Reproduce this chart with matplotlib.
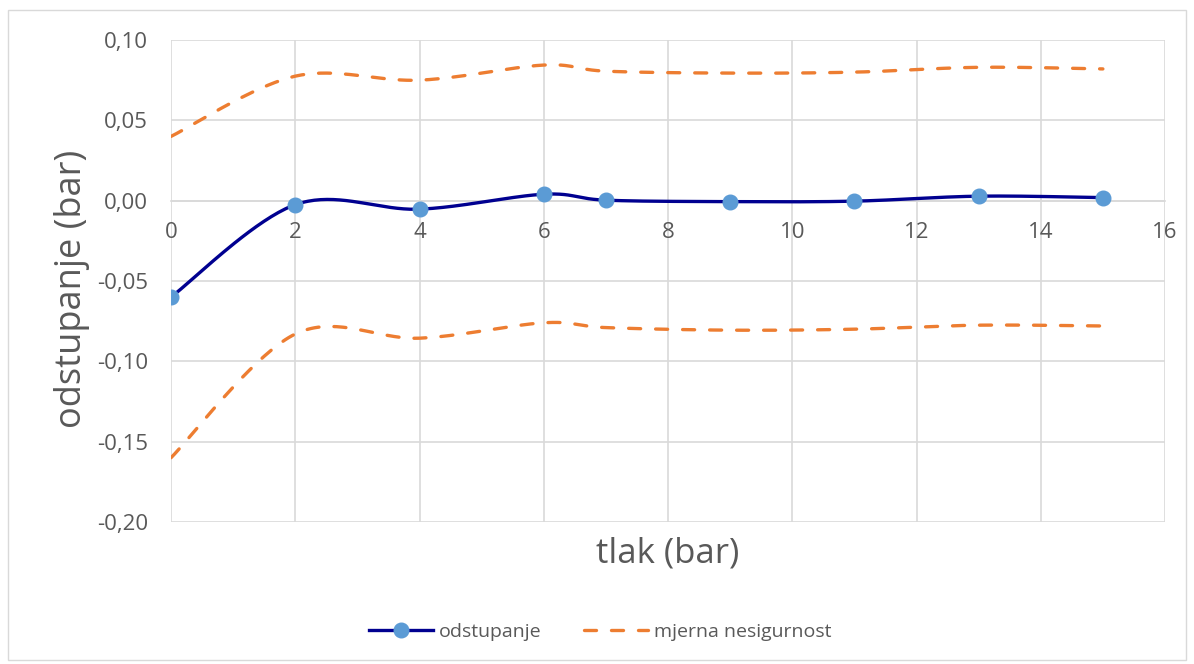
import numpy as np
import matplotlib
matplotlib.use("Agg")
import matplotlib.pyplot as plt
from matplotlib.patches import Rectangle
from matplotlib.lines import Line2D

# ---- data ----
tlak = [0, 2, 4, 6, 7, 9, 11, 13, 15]
odstupanje = [-0.060, -0.0025, -0.0053, 0.0040, 0.0003, -0.0006, -0.0003, 0.0028, 0.0019]
nesig_gornja = [0.040, 0.0775, 0.075, 0.0844, 0.0806, 0.0794, 0.0800, 0.0830, 0.0820]
nesig_donja = [-0.160, -0.083, -0.0856, -0.076, -0.079, -0.0806, -0.0800, -0.0775, -0.0780]
xticks = list(range(0, 17, 2))
yticks = [-0.20, -0.15, -0.10, -0.05, 0.00, 0.05, 0.10]


def smooth(x, y, n=40):
    """Catmull-Rom style smoothing (like Excel's smoothed line)."""
    x = np.asarray(x, float)
    y = np.asarray(y, float)
    px = np.concatenate([[x[0]], x, [x[-1]]])
    py = np.concatenate([[y[0]], y, [y[-1]]])
    xs, ys = [], []
    t = np.linspace(0, 1, n)
    for i in range(1, len(px) - 2):
        p0 = np.array([px[i], py[i]])
        p1 = np.array([px[i + 1], py[i + 1]])
        c1 = p0 + (np.array([px[i + 1], py[i + 1]]) - np.array([px[i - 1], py[i - 1]])) / 6
        c2 = p1 - (np.array([px[i + 2], py[i + 2]]) - np.array([px[i], py[i]])) / 6
        b = ((1 - t) ** 3)[:, None] * p0 + (3 * (1 - t) ** 2 * t)[:, None] * c1 \
            + (3 * (1 - t) * t ** 2)[:, None] * c2 + (t ** 3)[:, None] * p1
        xs.extend(b[:, 0])
        ys.extend(b[:, 1])
    return np.array(xs), np.array(ys)


plt.rcParams['font.family'] = ['Open Sans', 'DejaVu Sans']

fig = plt.figure(figsize=(11.94, 6.64), dpi=100)
fig.patches.append(Rectangle((8 / 1194, 4 / 664), 1178 / 1194, 650 / 664,
                             transform=fig.transFigure, fill=False,
                             edgecolor='#d9d9d9', linewidth=1))

ax = fig.add_axes([171 / 1194, 1 - 522 / 664, (1165 - 171) / 1194, (522 - 40) / 664])
ax.set_xlim(0, 16)
ax.set_ylim(-0.20, 0.10)

grid_c = '#d9d9d9'
for s in ['top', 'right', 'left']:
    ax.spines[s].set_visible(False)
ax.spines['bottom'].set_position(('data', 0))
ax.spines['bottom'].set_color(grid_c)
ax.spines['bottom'].set_linewidth(1.2)
ax.grid(True, color=grid_c, linewidth=1.2)
ax.set_axisbelow(True)

ax.set_xticks(xticks)
ax.set_xticklabels([str(v) for v in xticks])
ax.set_yticks(yticks)
ax.set_yticklabels([f"{v:.2f}".replace('.', ',') for v in yticks])
ax.tick_params(axis='both', length=0, labelsize=16, colors='#595959')
ax.tick_params(axis='x', pad=15)
ax.tick_params(axis='y', pad=16.5)

orange = '#ED7D31'
navy = '#000090'
dash = (3.6, 4.5)

xs, ys = smooth(tlak, nesig_gornja)
ax.plot(xs, ys, color=orange, lw=2.4, dashes=dash, dash_capstyle='round')
xs, ys = smooth(tlak, nesig_donja)
ax.plot(xs, ys, color=orange, lw=2.4, dashes=dash, dash_capstyle='round')

xs, ys = smooth(tlak, odstupanje)
ax.plot(xs, ys, color=navy, lw=2.4, zorder=3)
ax.plot(tlak, odstupanje, 'o', color='#5B9BD5', markersize=10.5, zorder=4)

h1 = Line2D([], [], color=navy, lw=2.4, marker='o', markersize=10.5,
            markerfacecolor='#5B9BD5', markeredgecolor='#5B9BD5')
h2 = Line2D([], [], color=orange, lw=2.4, dashes=dash, dash_capstyle='round')
fig.legend([h1, h2], ['odstupanje', 'mjerna nesigurnost'], loc='center',
           bbox_to_anchor=(600 / 1194, 1 - 632 / 664), ncol=2, frameon=False,
           fontsize=14, handlelength=3.3, columnspacing=2.2, handletextpad=0.3,
           labelcolor='#595959')

fig.text(668 / 1194, 1 - 553 / 664, 'tlak (bar)', ha='center', va='center',
         fontsize=25, color='#595959')
fig.text(72 / 1194, 1 - 289 / 664, 'odstupanje (bar)', ha='center', va='center',
         rotation=90, fontsize=26, color='#595959')

fig.savefig('out.png', dpi=100)
